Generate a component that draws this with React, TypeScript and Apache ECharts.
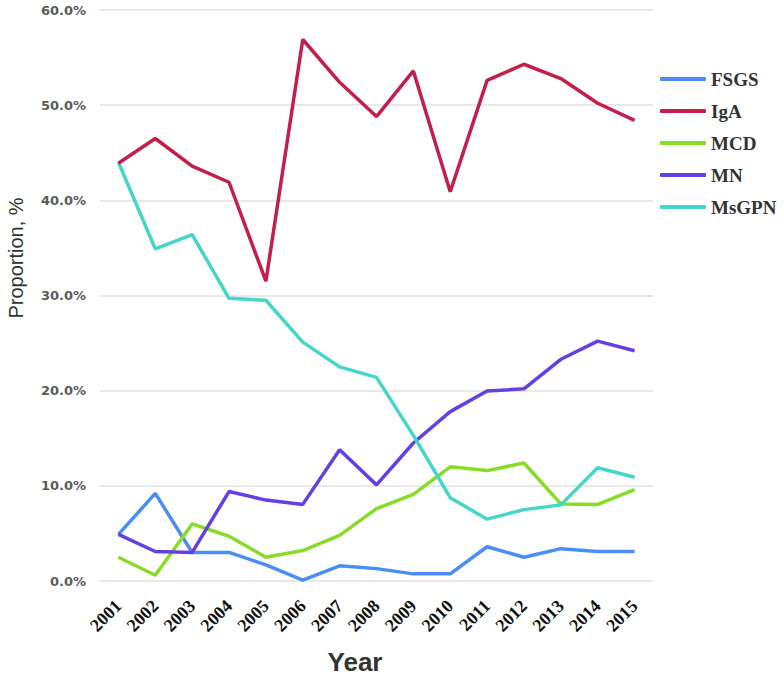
import React, { useEffect, useRef } from "react";
import * as echarts from "echarts";

const years = ["2001","2002","2003","2004","2005","2006","2007","2008","2009","2010","2011","2012","2013","2014","2015"];
const fsgs = [4.9, 9.2, 3.0, 3.0, 1.7, 0.1, 1.6, 1.3, 0.75, 0.75, 3.6, 2.5, 3.4, 3.1, 3.1];
const iga = [43.9, 46.5, 43.6, 41.9, 31.5, 56.9, 52.4, 48.8, 53.6, 40.9, 52.6, 54.3, 52.8, 50.2, 48.4];
const mcd = [2.5, 0.6, 6.0, 4.7, 2.5, 3.2, 4.8, 7.6, 9.1, 12.0, 11.6, 12.4, 8.1, 8.05, 9.6];
const mn = [4.9, 3.1, 3.0, 9.4, 8.5, 8.05, 13.8, 10.1, 14.5, 17.8, 19.96, 20.2, 23.3, 25.2, 24.2];
const msgpn = [44.0, 34.9, 36.4, 29.7, 29.5, 25.1, 22.5, 21.4, 15.3, 8.75, 6.5, 7.5, 8.0, 11.9, 10.9];

const seriesNames = ["FSGS", "IgA", "MCD", "MN", "MsGPN"];
const seriesData = [fsgs, iga, mcd, mn, msgpn];
const colors = ["#4a8ef2", "#c41e4a", "#88dc28", "#6440e4", "#44d6c8"];

export default function App() {
  const ref = useRef<HTMLDivElement>(null);
  useEffect(() => {
    if (!ref.current) return;
    const chart = echarts.init(ref.current, null, { renderer: "svg" });
    chart.setOption({
      animation: false,
      color: colors,
      grid: { left: 100, right: 131, top: 10, bottom: 97, containLabel: false },
      legend: {
        orient: "vertical",
        left: 655,
        top: 64,
        itemWidth: 46,
        itemHeight: 4,
        itemGap: 12,
        icon: "roundRect",
        data: seriesNames,
        textStyle: {
          fontFamily: "Liberation Serif",
          fontWeight: "bold",
          fontSize: 19,
          lineHeight: 20,
          color: "#333",
          padding: [0, 0, 0, 0],
        },
      },
      xAxis: {
        type: "category",
        data: years,
        boundaryGap: true,
        axisLine: { show: false },
        axisTick: { show: false },
        axisLabel: {
          rotate: 45,
          interval: 0,
          margin: 22,
          fontFamily: "Liberation Serif",
          fontWeight: "bold",
          fontSize: 18,
          color: "#111",
        },
      },
      yAxis: {
        type: "value",
        min: 0,
        max: 60,
        interval: 10,
        axisLine: { show: false },
        axisTick: { show: false },
        splitLine: { lineStyle: { color: "#e2e2e2", width: 1.5 } },
        axisLabel: {
          margin: 14,
          fontFamily: "DejaVu Sans",
          fontWeight: "bold",
          fontSize: 13,
          color: "#5a5a5a",
          formatter: (v: number) => v.toFixed(1) + "%",
        },
      },
      graphic: [
        {
          type: "text",
          x: 16,
          y: 258,
          rotation: Math.PI / 2,
          style: {
            text: "Proportion, %",
            fontFamily: "Liberation Sans",
            fontSize: 20,
            fill: "#333",
            align: "center",
            verticalAlign: "middle",
          },
        },
        {
          type: "text",
          x: 355,
          y: 662,
          style: {
            text: "Year",
            fontFamily: "Liberation Sans",
            fontWeight: "bold",
            fontSize: 26,
            fill: "#333",
            align: "center",
            verticalAlign: "middle",
          },
        },
      ],
      series: seriesNames.map((name, i) => ({
        name,
        type: "line",
        data: seriesData[i],
        showSymbol: false,
        symbol: "none",
        lineStyle: { width: 3.5, color: colors[i] },
        itemStyle: { color: colors[i] },
        z: i === 1 ? 3 : 2,
      })),
    });
    return () => chart.dispose();
  }, []);
  return (
    <div
      ref={ref}
      style={{ position: "absolute", left: 0, top: 0, width: 784, height: 678 }}
    />
  );
}
